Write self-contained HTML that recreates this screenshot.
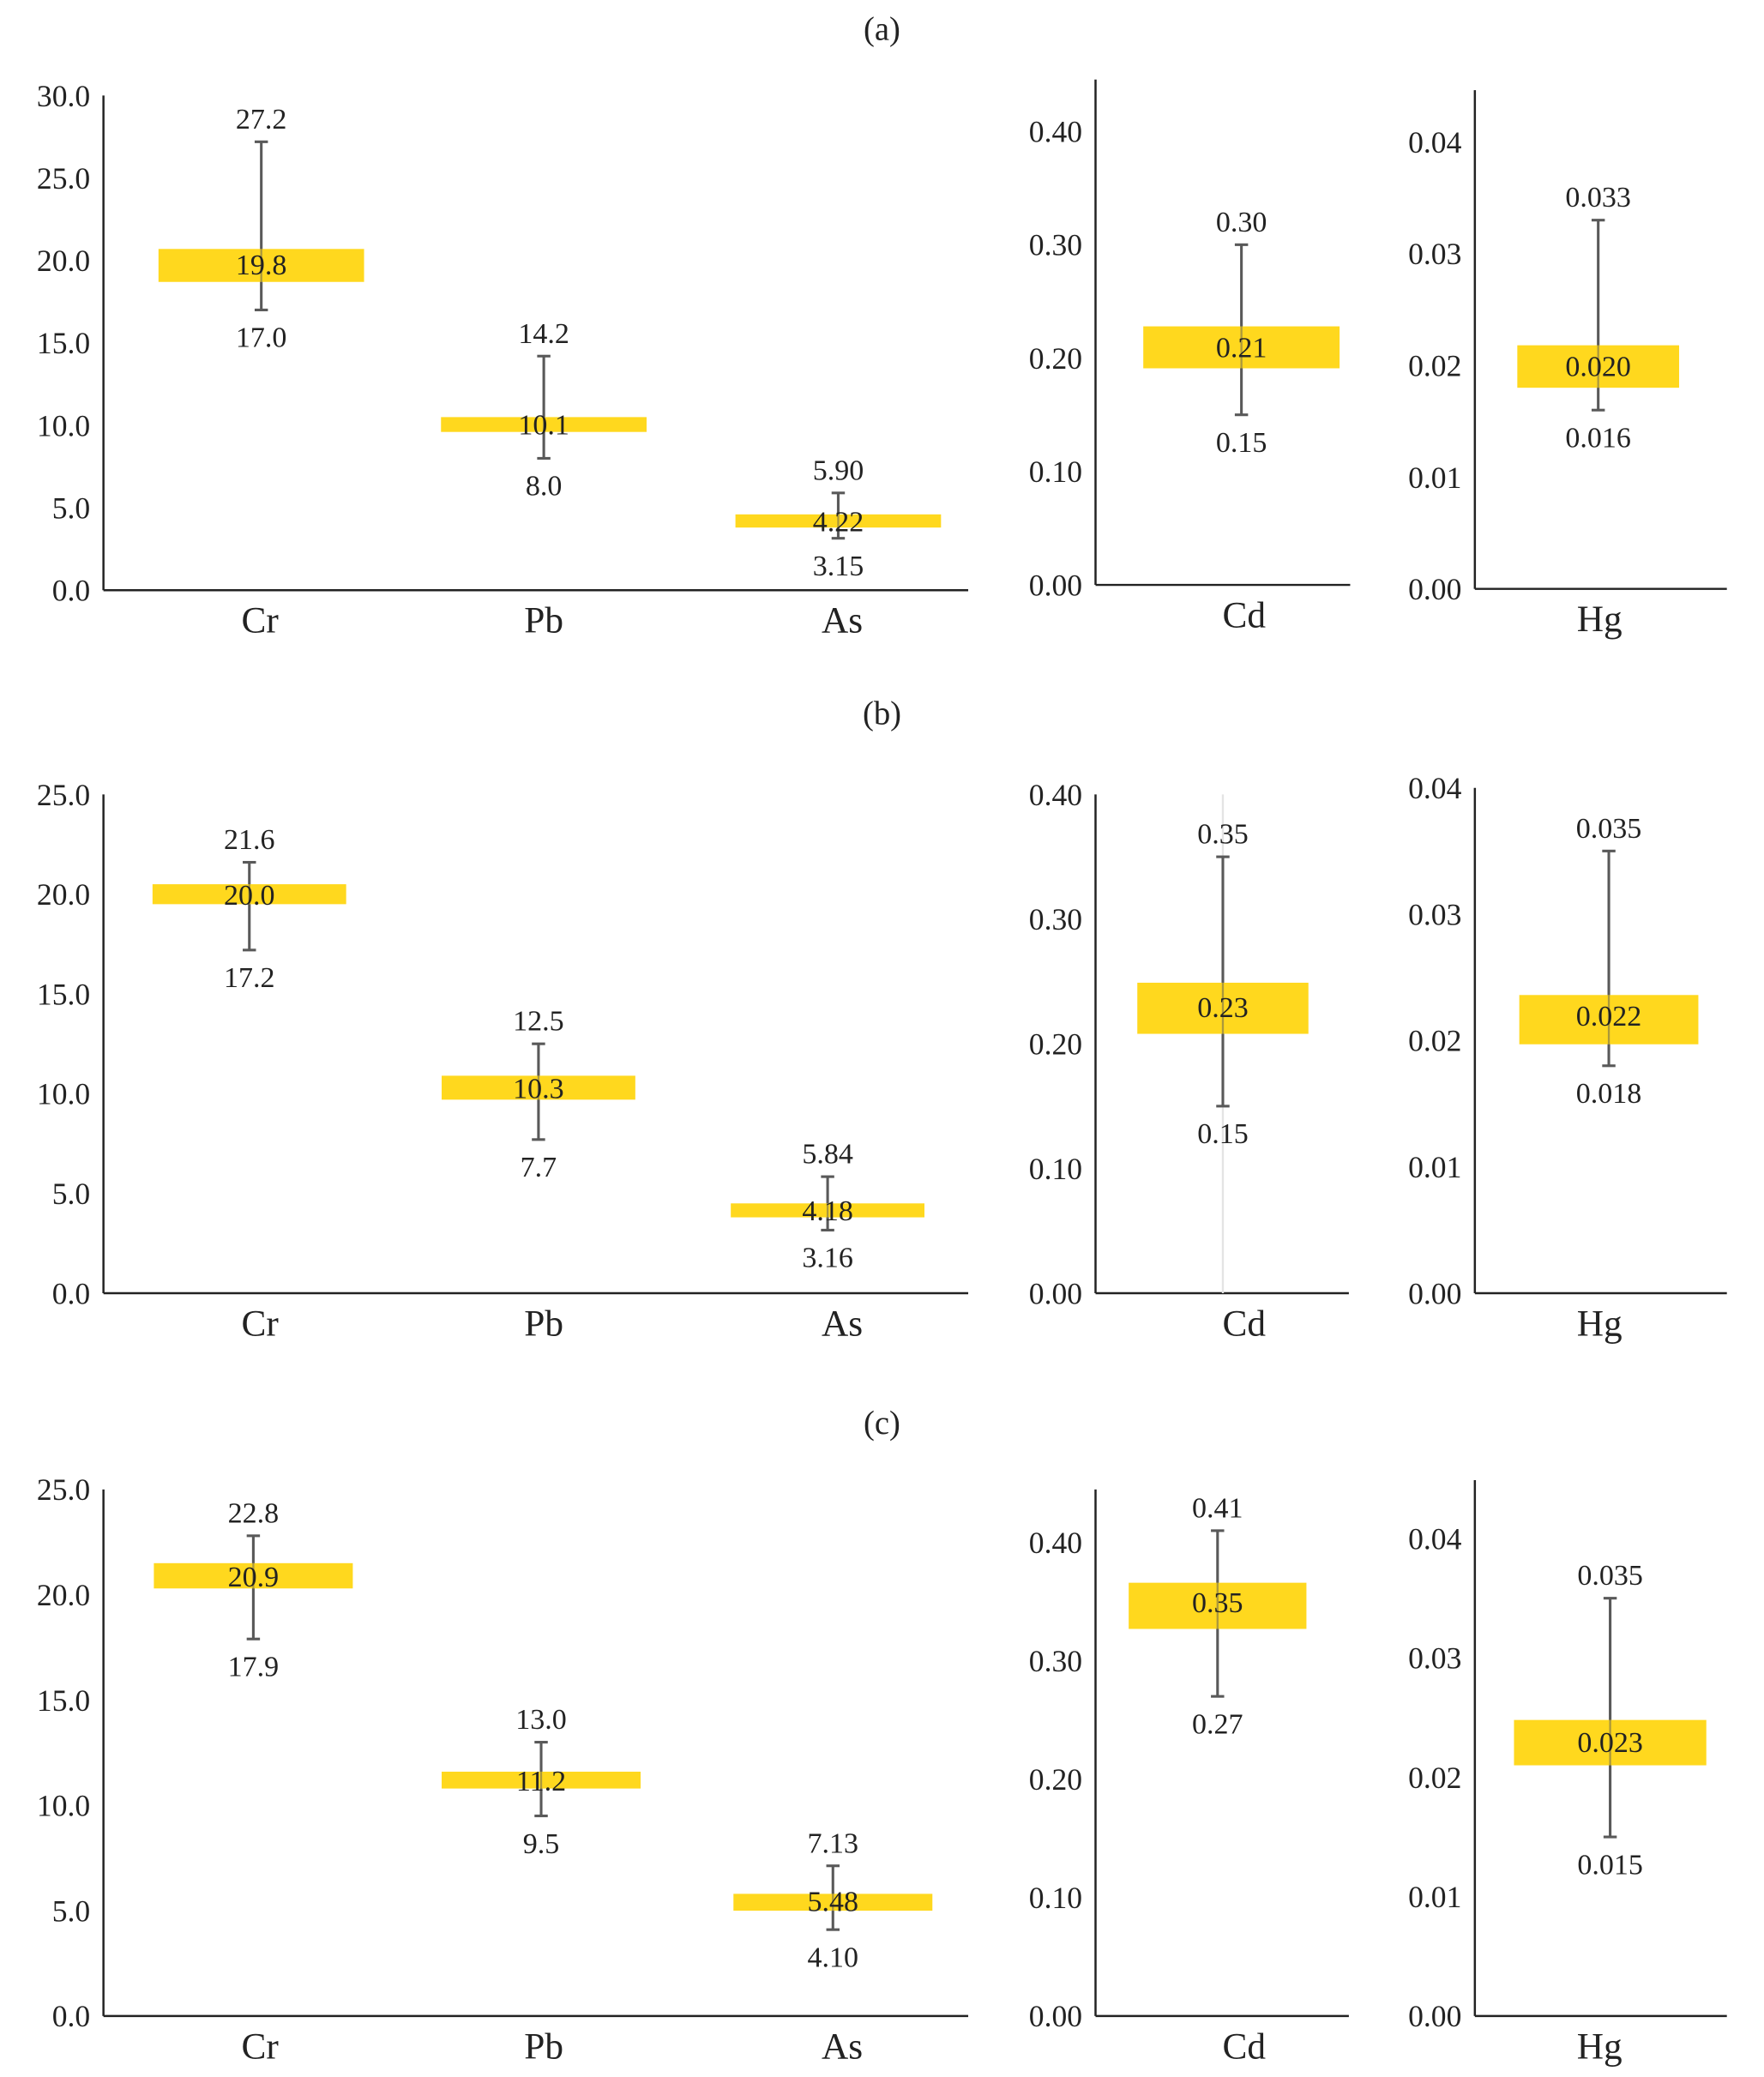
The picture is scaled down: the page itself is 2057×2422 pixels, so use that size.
<!DOCTYPE html>
<html><head><meta charset="utf-8"><style>
html,body{margin:0;padding:0;background:#fff}
svg{display:block}
text{font-family:"Liberation Serif",serif;fill:#222}
</style></head><body>
<svg id="c" width="2057" height="2422" viewBox="0 0 1330 1566" preserveAspectRatio="none"></svg>
<script>
// ---- data ----
const mainCats = ["Cr","Pb","As"];
const aMean = [19.8,10.1,4.22], aMax=[27.2,14.2,5.90], aMin=[17.0,8.0,3.15];
const aBoxHi=[20.7,10.5,4.6], aBoxLo=[18.7,9.6,3.8];
const aMeanL=["19.8","10.1","4.22"], aMaxL=["27.2","14.2","5.90"], aMinL=["17.0","8.0","3.15"];
const bMean=[20.0,10.3,4.18], bMax=[21.6,12.5,5.84], bMin=[17.2,7.7,3.16];
const bBoxHi=[20.5,10.9,4.5], bBoxLo=[19.5,9.7,3.8];
const bMeanL=["20.0","10.3","4.18"], bMaxL=["21.6","12.5","5.84"], bMinL=["17.2","7.7","3.16"];
const cMean=[20.9,11.2,5.48], cMax=[22.8,13.0,7.13], cMin=[17.9,9.5,4.10];
const cBoxHi=[21.5,11.6,5.8], cBoxLo=[20.3,10.8,5.0];
const cMeanL=["20.9","11.2","5.48"], cMaxL=["22.8","13.0","7.13"], cMinL=["17.9","9.5","4.10"];
const cdVals=[[0.21,0.30,0.15,0.228,0.191],[0.23,0.35,0.15,0.249,0.208],[0.35,0.41,0.27,0.366,0.327]];
const cdLabels=[["0.21","0.30","0.15"],["0.23","0.35","0.15"],["0.35","0.41","0.27"]];
const hgVals=[[0.020,0.033,0.016,0.0218,0.0180],[0.022,0.035,0.018,0.0236,0.0197],[0.023,0.035,0.015,0.0248,0.0210]];
const hgLabels=[["0.020","0.033","0.016"],["0.022","0.035","0.018"],["0.023","0.035","0.015"]];
const mainTicksA=["0.0","5.0","10.0","15.0","20.0","25.0","30.0"];
const mainTicksBC=["0.0","5.0","10.0","15.0","20.0","25.0"];
const cdTicks=["0.00","0.10","0.20","0.30","0.40"];
const hgTicks=["0.00","0.01","0.02","0.03","0.04"];
const panelTitles=["(a)","(b)","(c)"];

const svg=document.getElementById('c');
const NS="http://www.w3.org/2000/svg";
function mk(tag,attrs,txt){const e=document.createElementNS(NS,tag);for(const k in attrs)e.setAttribute(k,attrs[k]);if(txt!=null)e.textContent=txt;svg.appendChild(e);return e;}

function panel(L,cats,xs,mean,mx,mn,bhi,blo,meanL,maxL,minL,ticks,tickStep,catXs){
  const y=v=>L.y0-(v-0)*L.k;
  let e=mk('line',{x1:L.ax,y1:L.top,x2:L.ax,y2:L.y0,stroke:'#222','stroke-width':1.6});
  
  
  e=mk('line',{x1:L.ax,y1:L.y0,x2:L.ax2,y2:L.y0,stroke:'#222','stroke-width':1.6});
  
  
  ticks.forEach((t,i)=>{
    e=mk('text',{x:L.ax-10,y:y(i*tickStep)+8,'text-anchor':'end','font-size':23},t);
    
    
  });
  if(L.guide){e=mk('line',{x1:xs[0],y1:L.top,x2:xs[0],y2:L.y0,stroke:'#e4e4e4','stroke-width':1.5});
    
    }
  cats.forEach((c,i)=>{
    const x=xs[i];
    e=mk('line',{x1:x,y1:y(mx[i]),x2:x,y2:y(mn[i]),stroke:'#595959','stroke-width':2});
    
    
    [mx[i],mn[i]].forEach(v=>{e=mk('line',{x1:x-5,y1:y(v),x2:x+5,y2:y(v),stroke:'#595959','stroke-width':2});
      
      });
    e=mk('rect',{x:x-L.bw/2,y:y(bhi[i]),width:L.bw,height:y(blo[i])-y(bhi[i]),fill:'#FFD81E'});
    
    
    e=mk('line',{x1:x,y1:y(bhi[i]),x2:x,y2:y(blo[i]),stroke:'#595959','stroke-width':1.5,opacity:0.5});
    
    
    e=mk('text',{x:x,y:(y(mean[i]))+8,'text-anchor':'middle','font-size':22},meanL[i]);
    
    
    e=mk('text',{x:x,y:y(mx[i])-10,'text-anchor':'middle','font-size':22},maxL[i]);
    
    
    e=mk('text',{x:x,y:y(mn[i])+28,'text-anchor':'middle','font-size':22},minL[i]);
    
    
    e=mk('text',{x:catXs[i],y:L.y0+32,'text-anchor':'middle','font-size':28},c);
    
    
  });
}

const titleY=[30,546,1081];
panelTitles.forEach((t,i)=>{const e=mk('text',{x:665,y:titleY[i],'text-anchor':'middle','font-size':25},t);
  
  });

const mainL=[{ax:78,ax2:730,top:72,y0:445,k:12.43,bw:155},{ax:78,ax2:730,top:599,y0:975,k:15.04,bw:146},{ax:78,ax2:730,top:1123,y0:1520,k:15.88,bw:150}];
const mainX=[[197,410,632],[188,406,624],[191,408,628]];
const catLabelX=[196,410,635];
const sets=[[aMean,aMax,aMin,aBoxHi,aBoxLo,aMeanL,aMaxL,aMinL],[bMean,bMax,bMin,bBoxHi,bBoxLo,bMeanL,bMaxL,bMinL],[cMean,cMax,cMin,cBoxHi,cBoxLo,cMeanL,cMaxL,cMinL]];
sets.forEach((s,p)=>{
  panel(mainL[p],mainCats,mainX[p],...s,p==0?mainTicksA:mainTicksBC,5,catLabelX);
});
const cdL=[{ax:826,ax2:1018,top:60,y0:441,k:855,bw:148},{ax:826,ax2:1017,top:599,y0:975,k:940,bw:129,guide:true},{ax:826,ax2:1017,top:1123,y0:1520,k:892.5,bw:134}];
const cdX=[936,922,918];
cdVals.forEach((v,p)=>{panel(cdL[p],["Cd"],[cdX[p]],[v[0]],[v[1]],[v[2]],[v[3]],[v[4]],[cdLabels[p][0]],[cdLabels[p][1]],[cdLabels[p][2]],cdTicks,0.1,[938]);});
const hgL=[{ax:1112,ax2:1302,top:68,y0:444,k:8425,bw:122},{ax:1112,ax2:1302,top:594,y0:975,k:9525,bw:135},{ax:1112,ax2:1302,top:1116,y0:1520,k:9000,bw:145}];
const hgX=[1205,1213,1214];
hgVals.forEach((v,p)=>{panel(hgL[p],["Hg"],[hgX[p]],[v[0]],[v[1]],[v[2]],[v[3]],[v[4]],[hgLabels[p][0]],[hgLabels[p][1]],[hgLabels[p][2]],hgTicks,0.01,[1206]);});
</script>
</body></html>
